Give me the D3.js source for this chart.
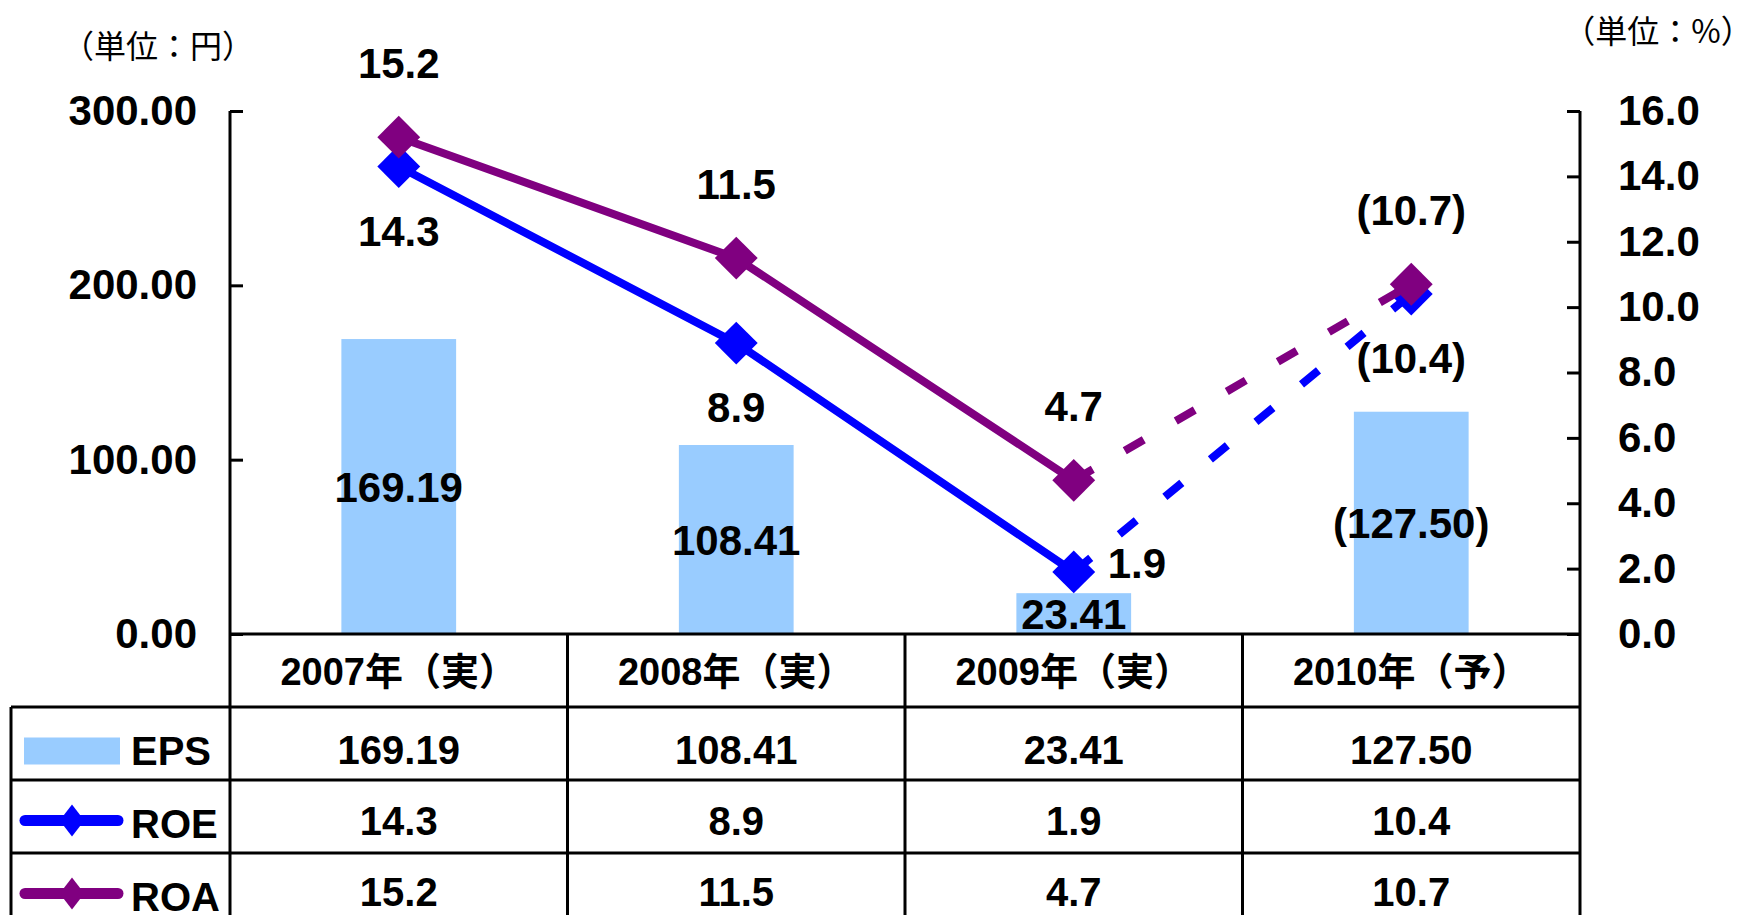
<!DOCTYPE html>
<html lang="ja">
  <head>
    <meta charset="utf-8">
    <title>EPS / ROE / ROA</title>
    <script src="https://d3js.org/d3.v7.min.js"></script>
    <style type="text/css">
        body {
          margin: 0;
          background: #fff;
        }
        .chart svg {
          display: block;
          font-family: "Liberation Sans", Arial, "Noto Sans CJK JP", sans-serif;
          font-weight: bold;
        }
        .axis text {
          font-size: 42px;
          font-weight: bold;
          fill: #000;
          font-family: "Liberation Sans", Arial, sans-serif;
        }
        .axis path, .axis line {
          stroke: #000;
          stroke-width: 3px;
        }
        .grid line {
          stroke: #000;
          stroke-width: 3px;
        }
        .unit {
          font-family: "Noto Sans CJK JP", sans-serif;
          font-weight: normal;
          font-size: 32px;
        }
        .lbl {
          font-size: 42px;
        }
    </style>
  </head>
  <body>
    <div class="chart" id="chart"></div>

    <script>
        var categories = ["2007年（実）", "2008年（実）", "2009年（実）", "2010年（予）"];
        var forecast = [false, false, false, true];
        var eps = [169.19, 108.41, 23.41, 127.50];
        var roe = [14.3, 8.9, 1.9, 10.4];
        var roa = [15.2, 11.5, 4.7, 10.7];
        var leftTicks = [0, 100, 200, 300];
        var rightTicks = [0, 2, 4, 6, 8, 10, 12, 14, 16];
        var rowNames = ["header", "EPS", "ROE", "ROA"];

        drawChart();

        function drawChart() {
            var width = 1739, height = 915;
            var left = 230, right = 1580, plotTop = 111, base = 634;

            var svg = d3.select("#chart").append("svg")
                .attr("width", width)
                .attr("height", height);

            var x = d3.scaleBand().domain(categories).range([left, right]);
            var xBar = d3.scaleBand().domain(categories).range([left, right])
                .paddingInner(0.66).paddingOuter(0.33);
            var yL = d3.scaleLinear().domain([0, 300]).range([base, plotTop]);
            var yR = d3.scaleLinear().domain([0, 16]).range([base, plotTop]);
            var row = d3.scaleBand().domain(rowNames).range([base, base + 4 * 73]);

            var cx = function(i) { return x(categories[i]) + x.bandwidth() / 2; };

            // bars
            svg.selectAll(".bar")
                .data(eps)
                .enter().append("rect")
                  .attr("class", "bar")
                  .attr("x", function(d, i) { return xBar(categories[i]); })
                  .attr("width", xBar.bandwidth())
                  .attr("y", function(d) { return yL(d); })
                  .attr("height", function(d) { return base - yL(d); })
                  .style("fill", "#99ccff");

            // axes
            svg.append("g")
                .attr("class", "axis")
                .attr("transform", "translate(" + left + ",0)")
                .call(d3.axisLeft(yL).tickValues(leftTicks).tickFormat(d3.format(".2f"))
                    .tickSizeInner(-13).tickSizeOuter(0).tickPadding(33))
                .call(function(g) { g.select(".domain").attr("d", "M0," + plotTop + "V" + height); });

            svg.append("g")
                .attr("class", "axis")
                .attr("transform", "translate(" + right + ",0)")
                .call(d3.axisRight(yR).tickValues(rightTicks).tickFormat(d3.format(".1f"))
                    .tickSizeInner(-13).tickSizeOuter(0).tickPadding(38))
                .call(function(g) {
                    g.select(".domain").attr("d", "M0," + plotTop + "V" + height);
                    g.selectAll("text").attr("text-anchor", "start");
                });

            // table grid
            var grid = svg.append("g").attr("class", "grid");
            grid.append("line").attr("x1", left).attr("x2", right).attr("y1", base).attr("y2", base);
            rowNames.slice(1).forEach(function(r) {
                grid.append("line").attr("x1", 11).attr("x2", right).attr("y1", row(r)).attr("y2", row(r));
            });
            grid.append("line").attr("x1", 11).attr("x2", right)
                .attr("y1", row("ROA") + row.bandwidth()).attr("y2", row("ROA") + row.bandwidth());
            grid.append("line").attr("x1", 11).attr("x2", 11).attr("y1", row("EPS")).attr("y2", height);
            categories.slice(1).forEach(function(c) {
                grid.append("line").attr("x1", x(c)).attr("x2", x(c)).attr("y1", base).attr("y2", height);
            });

            var diamond = d3.symbol().type(d3.symbolSquare);
            var series = [
                {name: "ROE", values: roe, color: "#0000ff", labels: [[0, 64], [0, 64], [63, -9], [0, 64]]},
                {name: "ROA", values: roa, color: "#800080", labels: [[0, -74], [0, -74], [0, -74], [0, -74]]}
            ];

            series.forEach(function(s) {
                var pts = s.values.map(function(v, i) { return [cx(i), yR(v)]; });
                var actual = pts.filter(function(p, i) { return !forecast[i]; });
                var line = d3.line();
                svg.append("path")
                    .attr("d", line(actual))
                    .style("fill", "none")
                    .style("stroke", s.color)
                    .style("stroke-width", 8);
                svg.append("path")
                    .attr("d", line(pts.slice(actual.length - 1)))
                    .style("fill", "none")
                    .style("stroke", s.color)
                    .style("stroke-width", 8)
                    .style("stroke-dasharray", "22,37");
                svg.selectAll(".m-" + s.name)
                    .data(pts)
                    .enter().append("path")
                      .attr("transform", function(d) { return "translate(" + d[0] + "," + d[1] + ") rotate(45)"; })
                      .attr("d", diamond.size(920))
                      .style("fill", s.color);
            });

            // data labels
            var fmtVal = function(v, i, f) { return forecast[i] ? "(" + f(v) + ")" : f(v); };
            series.forEach(function(s) {
                svg.selectAll(".l-" + s.name)
                    .data(s.values)
                    .enter().append("text")
                      .attr("class", "lbl")
                      .attr("x", function(d, i) { return cx(i) + s.labels[i][0]; })
                      .attr("y", function(d, i) { return yR(d) + s.labels[i][1]; })
                      .attr("dy", "0.36em")
                      .attr("text-anchor", function(d, i) { return s.labels[i][0] ? "start" : "middle"; })
                      .attr("dx", function(d, i) { return s.labels[i][0] ? -29 : 0; })
                      .text(function(d, i) { return fmtVal(d, i, d3.format(".1f")); });
            });
            svg.selectAll(".l-eps")
                .data(eps)
                .enter().append("text")
                  .attr("class", "lbl")
                  .attr("x", function(d, i) { return cx(i); })
                  .attr("y", function(d) { return yL(d / 2); })
                  .attr("dy", "0.36em")
                  .attr("text-anchor", "middle")
                  .text(function(d, i) { return fmtVal(d, i, d3.format(".2f")); });

            // table text
            var mid = function(r) { return row(r) + row.bandwidth() / 2 + 2; };
            svg.selectAll(".cat")
                .data(categories)
                .enter().append("text")
                  .attr("class", "lbl")
                  .style("font-size", "38px")
                  .attr("x", function(d) { return x(d) + x.bandwidth() / 2; })
                  .attr("y", mid("header") - 1)
                  .attr("dy", "0.36em")
                  .attr("text-anchor", "middle")
                  .text(function(d) { return d; });

            var tableRows = [
                {name: "EPS", values: eps, f: d3.format(".2f"), shift: 4},
                {name: "ROE", values: roe, f: d3.format(".1f"), shift: 2},
                {name: "ROA", values: roa, f: d3.format(".1f"), shift: 0}
            ];
            tableRows.forEach(function(r) {
                svg.selectAll(".t-" + r.name)
                    .data(r.values)
                    .enter().append("text")
                      .attr("class", "lbl")
                      .style("font-size", "40px")
                      .attr("x", function(d, i) { return cx(i); })
                      .attr("y", mid(r.name) + r.shift)
                      .attr("dy", "0.36em")
                      .attr("text-anchor", "middle")
                      .text(function(d) { return r.f(d); });
                svg.append("text")
                    .attr("class", "lbl")
                    .style("font-size", "40px")
                    .attr("x", 131)
                    .attr("y", mid(r.name) + 5)
                    .attr("dy", "0.36em")
                    .text(r.name);
            });

            // legend keys
            svg.append("rect")
                .attr("x", 24).attr("width", 96)
                .attr("y", mid("EPS") - 8).attr("height", 27)
                .style("fill", "#99ccff");
            series.forEach(function(s) {
                var ly = mid(s.name) + 2;
                svg.append("line")
                    .attr("x1", 25).attr("x2", 118).attr("y1", ly).attr("y2", ly)
                    .style("stroke", s.color).style("stroke-width", 11)
                    .style("stroke-linecap", "round");
                svg.append("path")
                    .attr("transform", "translate(72," + ly + ") scale(0.85,1.1) rotate(45)")
                    .attr("d", diamond.size(420))
                    .style("fill", s.color);
            });

            // units
            svg.append("text").attr("class", "unit")
                .attr("x", 158).attr("y", 46).attr("dy", "0.36em")
                .attr("text-anchor", "middle").text("（単位：円）");
            svg.append("text").attr("class", "unit")
                .attr("x", 1658).attr("y", 31).attr("dy", "0.36em")
                .attr("text-anchor", "middle").text("（単位：%）");
        }
    </script>
  </body>
</html>
